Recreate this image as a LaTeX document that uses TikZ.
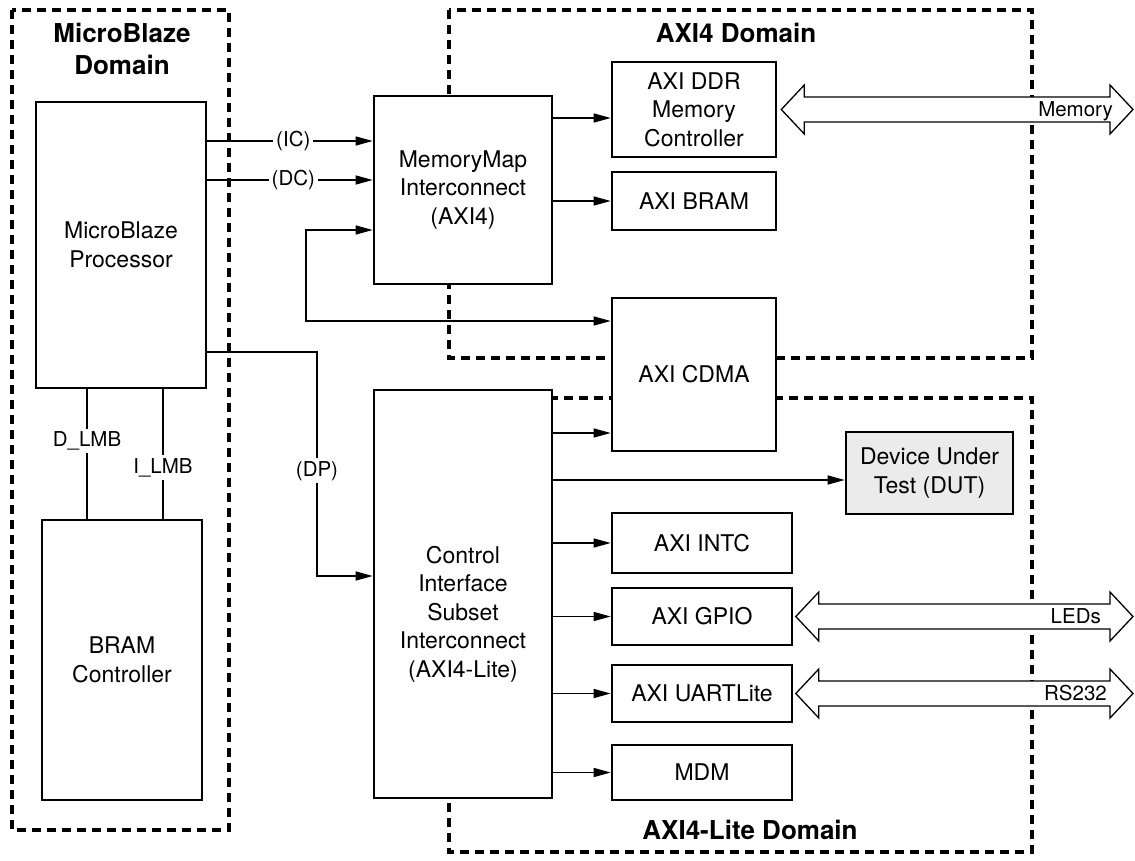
\documentclass[tikz,border=0pt]{standalone}
\usepackage{fontspec}
\setmainfont{TeX Gyre Heros}
\usetikzlibrary{arrows.meta,calc}
\newcommand\boxfont{\fontsize{23}{28.5}\selectfont}
\newcommand\lblfont{\fontsize{20.5}{24}\selectfont}
\newcommand\titlefont{\fontsize{26}{32}\selectfont\bfseries}
\tikzset{
  blk/.style={draw, line width=2.6pt, fill=white, align=center, font=\boxfont, inner sep=0pt},
  dom/.style={draw, line width=3.6pt, dash pattern=on 9pt off 6pt},
  con/.style={line width=1.3pt},
  arr/.style={con, -{Triangle[length=17pt,width=9pt]}},
  barr/.style={con, {Triangle[length=17pt,width=9pt]}-{Triangle[length=17pt,width=9pt]}},
  lbl/.style={fill=white, font=\lblfont, inner sep=3pt},
  title/.style={font=\titlefont, align=center},
  bus/.style={line width=1.3pt, fill=white, line join=miter},
  buslbl/.style={font=\lblfont, anchor=base east, inner sep=0pt}
}
\newcommand\busarrow[2]{%
  \draw[bus] (#1) -- ++(23,-24.5) -- ++(0,12) -- ($(#2)+(-23,-12.5)$) -- ++(0,-12) -- (#2)
    -- ++(-23,24.5) -- ++(0,-12) -- ($(#1)+(23,12.5)$) -- ++(0,12) -- cycle;}
\begin{document}
\begin{tikzpicture}[x=1pt,y=-1pt]
\useasboundingbox (0,0) rectangle (1135,861);
% domains
\draw[dom] (12,10) rectangle (229,830);
\draw[dom] (449,10) rectangle (1032,358);
\draw[dom] (449,398) rectangle (1032,852);
\node[title] (mbt) at (122,49) {MicroBlaze\\Domain};
\node[title] (axt) at (736,33) {AXI4 Domain};
\node[title] (alt) at (750,830) {AXI4-Lite Domain};
% blocks
\node[blk, minimum width=170pt, minimum height=286pt] (proc) at (121,245) {MicroBlaze\\Processor};
\node[blk, minimum width=160pt, minimum height=280pt] (bram) at (122,660) {BRAM\\Controller};
\node[blk, minimum width=178pt, minimum height=188pt] (mm) at (463,190) {MemoryMap\\Interconnect\\(AXI4)};
\node[blk, minimum width=164pt, minimum height=95pt] (ddr) at (694,109.5) {AXI DDR\\Memory\\Controller};
\node[blk, minimum width=164pt, minimum height=58pt] (abram) at (694,201) {AXI BRAM};
\node[blk, minimum width=164pt, minimum height=153pt] (cdma) at (694,374.5) {AXI CDMA};
\node[blk, minimum width=178pt, minimum height=408pt] (ctrl) at (463,594) {};
\node[font=\boxfont, align=center] (ctrltxt) at (463,614) {Control\\Interface\\Subset\\Interconnect\\(AXI4-Lite)};
\node[blk, fill=black!8, minimum width=167pt, minimum height=82pt] (dut) at (929.5,473) {Device Under\\Test (DUT)};
\node[blk, minimum width=180pt, minimum height=60pt] (intc) at (702,543) {AXI INTC};
\node[blk, minimum width=180pt, minimum height=57pt] (gpio) at (702,616.5) {AXI GPIO};
\node[blk, minimum width=180pt, minimum height=57pt] (uart) at (702,693.5) {AXI UARTLite};
\node[blk, minimum width=180pt, minimum height=55pt] (mdm) at (702,772.5) {MDM};
% helper coordinates
\coordinate (yDDR) at (0,118);
\coordinate (yIC) at (0,141);
\coordinate (yDC) at (0,180);
\coordinate (yDP) at (0,352);
\coordinate (xDP) at (317,0);
\coordinate (yDPin) at (0,576);
\coordinate (yMMb) at (0,230);
\coordinate (xMMb) at (306,0);
\coordinate (yCD) at (0,321);
\coordinate (yCC) at (0,433);
\coordinate (yDUT) at (0,480);
\coordinate (xD) at (87,0);
\coordinate (xI) at (163,0);
\coordinate (xR) at (1133,0);
% connectors
\draw[arr] (mm.east |- yDDR) -- (ddr.west |- yDDR);
\draw[arr] (mm.east |- abram.west) -- (abram.west);
\draw[arr] (proc.east |- yIC) -- node[lbl, pos=0.52] (lic) {(IC)} (mm.west |- yIC);
\draw[arr] (proc.east |- yDC) -- node[lbl, pos=0.52] (ldc) {(DC)} (mm.west |- yDC);
\draw[arr] (proc.east |- yDP) -| (xDP |- yDPin) -- (ctrl.west |- yDPin);
\path (xDP |- yDP) -- node[lbl, pos=0.53] (ldp) {(DP)} (xDP |- yDPin);
\draw[barr] (mm.west |- yMMb) -| (xMMb |- yCD) -- (cdma.west |- yCD);
\draw[arr] (ctrl.east |- yCC) -- (cdma.west |- yCC);
\draw[arr] (ctrl.east |- yDUT) -- (dut.west |- yDUT);
\draw[arr] (ctrl.east |- intc.west) -- (intc.west);
\draw[arr] (ctrl.east |- gpio.west) -- (gpio.west);
\draw[arr] (ctrl.east |- uart.west) -- (uart.west);
\draw[arr] (ctrl.east |- mdm.west) -- (mdm.west);
\draw[con] (proc.south -| xD) -- node[lbl, pos=0.40] (ldl) {D\_LMB} (bram.north -| xD);
\draw[con] (proc.south -| xI) -- node[lbl, pos=0.606] (lil) {I\_LMB} (bram.north -| xI);
% external buses
\coordinate (memL) at ([xshift=4pt]ddr.east);
\coordinate (memR) at (memL -| xR);
\coordinate (ledL) at ([xshift=2.5pt]gpio.east);
\coordinate (ledR) at (ledL -| xR);
\coordinate (rsL) at ([xshift=2.5pt]uart.east);
\coordinate (rsR) at (rsL -| xR);
\busarrow{memL}{memR}
\busarrow{ledL}{ledR}
\busarrow{rsL}{rsR}
\node[buslbl] (meml) at ([xshift=-20pt,yshift=-7.5pt]memR) {Memory};
\node[buslbl] (ledl) at ([xshift=-32pt,yshift=-6.5pt]ledR) {LEDs};
\node[buslbl] (rsl) at ([xshift=-26pt,yshift=-6.5pt]rsR) {RS232};
\end{tikzpicture}
\end{document}
